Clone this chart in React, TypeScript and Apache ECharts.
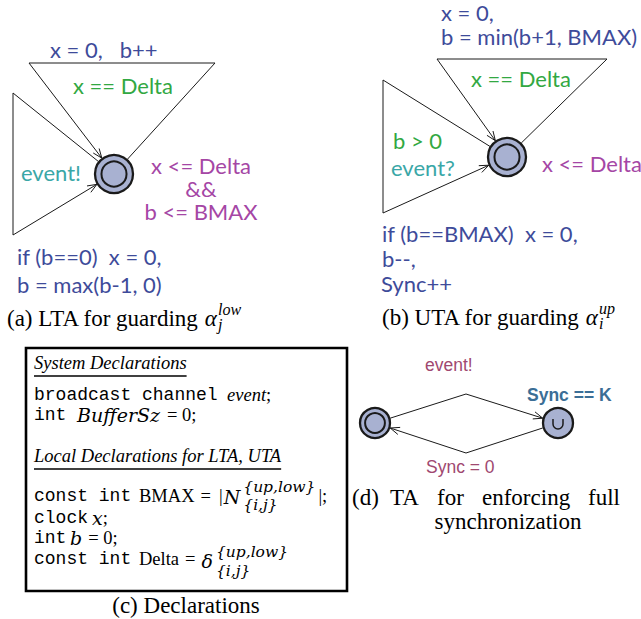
import React, { useEffect, useRef } from "react";
import * as echarts from "echarts";

// ---------------- texts ----------------
const LTA_TEXTS = ["x = 0,   b++", "x == Delta", "event!", "x <= Delta", "&&", "b <= BMAX", "if (b==0)  x = 0,", "b = max(b-1, 0)"];
const UTA_TEXTS = ["x = 0,", "b = min(b+1, BMAX)", "x == Delta", "b > 0", "event?", "x <= Delta", "if (b==BMAX)  x = 0,", "b--,", "Sync++"];
const SYNC_TEXTS = ["event!", "Sync == K", "Sync = 0"];
const CAPTION_A = ["(a) LTA for guarding ", "α", "low", "j"];
const CAPTION_B = ["(b) UTA for guarding ", "α", "up", "i"];
const CAPTION_C = ["(c) Declarations"];
const CAPTION_D = ["(d)", "TA", "for", "enforcing", "full", "synchronization"];
const DECL_HEADINGS = ["System Declarations", "Local Declarations for LTA, UTA"];
const DECL_SEGMENTS = [
  "broadcast channel", "event", ";",
  "int", "BufferSz", "= 0;",
  "const int", "BMAX", "=", "|", "N", "{up,low}", "{i,j}", "|;",
  "clock", "x", ";",
  "int", "b", "= 0;",
  "const int", "Delta", "=", "δ", "{up,low}", "{i,j}",
];

// ---------------- styles ----------------
const SANS = "Lato, 'Open Sans', sans-serif";
const F_SANS = `22px ${SANS}`;
const F_D = `17.5px 'Liberation Sans', Arial, sans-serif`;
const F_DB = `bold 17.5px 'Liberation Sans', Arial, sans-serif`;
const SERIF = "'Liberation Serif', 'Times New Roman', serif";
const F_CAP = `23px ${SERIF}`;
const F_CAP_IT = `italic 23px ${SERIF}`;
const F_CAP_SC = `italic 16px ${SERIF}`;
const FONTS: Record<string, string> = {
  mono: `18px 'Liberation Mono', 'DejaVu Sans Mono', monospace`,
  rm: `18.5px ${SERIF}`,
  it: `italic 18.5px ${SERIF}`,
  mi: `italic 19px 'DejaVu Serif', serif`,
  sup: `italic 15.5px 'DejaVu Serif', serif`,
  sub: `italic 15.5px 'DejaVu Serif', serif`,
};
// layout of DECL_SEGMENTS: [left x (null = follow previous), centre y, font, gap before]
const DECL_LAYOUT: [number | null, number, string, number][] = [
  [34, 395, "mono", 0], [227, 395, "it", 0], [null, 395, "rm", 0],
  [34, 415, "mono", 0], [77, 415, "mi", 0], [null, 415, "rm", 7],
  [34, 496, "mono", 0], [139, 496, "rm", 0], [null, 496, "rm", 6], [null, 496, "rm", 8], [null, 497, "mi", 1], [null, 487, "sup", 3], [null, 505, "sub", 3], [null, 496, "rm", 3],
  [34, 518, "mono", 0], [92, 518, "mi", 0], [null, 518, "rm", 0],
  [34, 538, "mono", 0], [70, 538, "mi", 0], [null, 538, "rm", 6],
  [34, 559, "mono", 0], [139, 559, "rm", 0], [null, 559, "rm", 6], [null, 561, "mi", 6], [null, 552, "sup", 3], [null, 571, "sub", 3],
];

const C_ASSIGN = "#3e4b9a";
const C_GUARD = "#32a842";
const C_SYNC = "#3aa7a7";
const C_INV = "#a546a5";
const C_D = "#a04870";
const C_DB = "#3b6e96";
const C_FILL = "#a8b1d1";
const C_LINE = "#1a1a1a";

let measureCtx: CanvasRenderingContext2D | null = null;
function mw(text: string, font: string): number {
  if (!measureCtx) measureCtx = document.createElement("canvas").getContext("2d");
  measureCtx!.font = font;
  return measureCtx!.measureText(text).width;
}

function txt(text: string, x: number, y: number, font: string, fill: string, align = "left"): any {
  return {
    type: "text",
    x,
    y,
    silent: true,
    style: { text, font, fill, align, verticalAlign: "middle", textAlign: align, textVerticalAlign: "middle" },
  };
}

type P = [number, number];
function toward(c: P, r: number, t: P): P {
  const dx = t[0] - c[0];
  const dy = t[1] - c[1];
  const d = Math.hypot(dx, dy);
  return [c[0] + (dx / d) * r, c[1] + (dy / d) * r];
}

function edge(from: P, fr: number, nails: P[], to: P, tr: number): any[] {
  const a = toward(from, fr, nails[0]);
  const b = toward(to, tr, nails[nails.length - 1]);
  const pts = [a, ...nails, b];
  const prev = nails[nails.length - 1];
  const ang = Math.atan2(b[1] - prev[1], b[0] - prev[0]);
  const L = 10;
  const spread = 0.38;
  const h1: P = [b[0] - L * Math.cos(ang - spread), b[1] - L * Math.sin(ang - spread)];
  const h2: P = [b[0] - L * Math.cos(ang + spread), b[1] - L * Math.sin(ang + spread)];
  return [
    { type: "polyline", silent: true, shape: { points: pts }, style: { stroke: C_LINE, lineWidth: 1, fill: null, lineJoin: "round" } },
    { type: "polyline", silent: true, shape: { points: [h1, b, h2] }, style: { stroke: C_LINE, lineWidth: 1, fill: null } },
  ];
}

function location(c: P, r: number, initial: boolean, urgent: boolean): any[] {
  const els: any[] = [
    { type: "circle", silent: true, shape: { cx: c[0], cy: c[1], r }, style: { fill: C_FILL, stroke: C_LINE, lineWidth: 2.3 } },
  ];
  if (initial) {
    els.push({ type: "circle", silent: true, shape: { cx: c[0], cy: c[1], r: r * 0.66 }, style: { fill: C_FILL, stroke: C_LINE, lineWidth: 2 } });
  }
  if (urgent) {
    els.push({
      type: "arc",
      silent: true,
      shape: { cx: c[0], cy: c[1] + 1, r: 5, startAngle: 0, endAngle: Math.PI, clockwise: true },
      style: { stroke: C_LINE, lineWidth: 1.5, fill: null },
    });
    els.push({ type: "line", silent: true, shape: { x1: c[0] - 5, y1: c[1] - 4, x2: c[0] - 5, y2: c[1] + 1 }, style: { stroke: C_LINE, lineWidth: 1.5 } });
    els.push({ type: "line", silent: true, shape: { x1: c[0] + 5, y1: c[1] - 4, x2: c[0] + 5, y2: c[1] + 1 }, style: { stroke: C_LINE, lineWidth: 1.5 } });
  }
  return els;
}

function caption(x0: number, y: number, parts: string[]): any[] {
  const els: any[] = [];
  let x = x0;
  els.push(txt(parts[0], x, y, F_CAP, "#000"));
  x += mw(parts[0], F_CAP);
  els.push(txt(parts[1], x, y, F_CAP_IT, "#000"));
  x += mw(parts[1], F_CAP_IT) + 1;
  els.push(txt(parts[2], x, y - 9, F_CAP_SC, "#000"));
  els.push(txt(parts[3], x, y + 6, F_CAP_SC, "#000"));
  return els;
}

function declarations(): any[] {
  const els: any[] = [];
  let cursor = 0;
  let supX = 0;
  let supRight = 0;
  DECL_SEGMENTS.forEach((s, i) => {
    const [lx, y, f, gap] = DECL_LAYOUT[i];
    const font = FONTS[f];
    let x: number;
    if (f === "sub") {
      x = supX;
    } else {
      x = lx !== null ? lx : cursor + gap;
    }
    els.push(txt(s, x, y, font, "#000"));
    const right = x + mw(s, font);
    if (f === "sup") {
      supX = x;
      supRight = right;
      cursor = right;
    } else if (f === "sub") {
      cursor = Math.max(supRight, right);
    } else {
      cursor = right;
    }
  });
  return els;
}

function buildGraphics(): any[] {
  const g: any[] = [];

  // ---------- (a) LTA ----------
  const ca: P = [114, 174];
  const ra = 19;
  g.push(...edge(ca, ra + 1, [[215, 63], [29, 63]], ca, ra + 1));
  g.push(...edge(ca, ra + 1, [[13, 93], [13, 235]], ca, ra + 1));
  g.push(...location(ca, ra, true, false));
  g.push(txt(LTA_TEXTS[0], 50, 49, F_SANS, C_ASSIGN));
  g.push(txt(LTA_TEXTS[1], 73, 85, F_SANS, C_GUARD));
  g.push(txt(LTA_TEXTS[2], 21, 172, F_SANS, C_SYNC));
  g.push(txt(LTA_TEXTS[3], 201, 165, F_SANS, C_INV, "center"));
  g.push(txt(LTA_TEXTS[4], 201, 188, F_SANS, C_INV, "center"));
  g.push(txt(LTA_TEXTS[5], 201, 211, F_SANS, C_INV, "center"));
  g.push(txt(LTA_TEXTS[6], 17, 256, F_SANS, C_ASSIGN));
  g.push(txt(LTA_TEXTS[7], 17, 284, F_SANS, C_ASSIGN));
  g.push(...caption(7, 318, CAPTION_A));

  // ---------- (b) UTA ----------
  const cb: P = [507, 157];
  g.push(...edge(cb, ra + 1, [[607, 59], [437, 59]], cb, ra + 1));
  g.push(...edge(cb, ra + 1, [[383, 80], [383, 213]], cb, ra + 1));
  g.push(...location(cb, ra, true, false));
  g.push(txt(UTA_TEXTS[0], 441, 12, F_SANS, C_ASSIGN));
  g.push(txt(UTA_TEXTS[1], 441, 36, F_SANS, C_ASSIGN));
  g.push(txt(UTA_TEXTS[2], 471, 78, F_SANS, C_GUARD));
  g.push(txt(UTA_TEXTS[3], 393, 140, F_SANS, C_GUARD));
  g.push(txt(UTA_TEXTS[4], 391, 167, F_SANS, C_SYNC));
  g.push(txt(UTA_TEXTS[5], 542, 163, F_SANS, C_INV));
  g.push(txt(UTA_TEXTS[6], 382, 233, F_SANS, C_ASSIGN));
  g.push(txt(UTA_TEXTS[7], 382, 258, F_SANS, C_ASSIGN));
  g.push(txt(UTA_TEXTS[8], 381, 283, F_SANS, C_ASSIGN));
  g.push(...caption(382, 317, CAPTION_B));

  // ---------- (c) Declarations ----------
  g.push({ type: "rect", silent: true, shape: { x: 26, y: 348, width: 321, height: 243 }, style: { fill: "#fff", stroke: "#000", lineWidth: 2.6 } });
  const X0 = 34;
  const headY = [363, 456];
  DECL_HEADINGS.forEach((h, i) => {
    g.push(txt(h, X0, headY[i], FONTS.it, "#000"));
    const w = mw(h, FONTS.it);
    g.push({ type: "line", silent: true, shape: { x1: X0, y1: headY[i] + 13, x2: X0 + w, y2: headY[i] + 13 }, style: { stroke: "#000", lineWidth: 1.3 } });
  });
  g.push(...declarations());
  g.push(txt(CAPTION_C[0], 186, 605, F_CAP, "#000", "center"));

  // ---------- (d) Sync TA ----------
  const cl: P = [375, 423];
  const cr: P = [558, 423];
  const rd = 15;
  g.push(...edge(cl, rd + 1, [[466, 394]], cr, rd + 1));
  g.push(...edge(cr, rd + 1, [[466, 453]], cl, rd + 1));
  g.push(...location(cl, rd, true, false));
  g.push(...location(cr, rd, false, true));
  g.push(txt(SYNC_TEXTS[0], 425, 365, F_D, C_D));
  g.push(txt(SYNC_TEXTS[1], 527, 395, F_DB, C_DB));
  g.push(txt(SYNC_TEXTS[2], 426, 467, F_D, C_D));
  const dX = [352, 390, 437, 482, 588];
  for (let i = 0; i < 5; i++) g.push(txt(CAPTION_D[i], dX[i], 497, F_CAP, "#000"));
  g.push(txt(CAPTION_D[5], 508, 521, F_CAP, "#000", "center"));

  return g;
}

export default function App() {
  const ref = useRef<HTMLDivElement>(null);
  useEffect(() => {
    document.body.style.margin = "0";
    if (!ref.current) return;
    const chart = echarts.init(ref.current, null, { renderer: "svg" });
    chart.setOption({
      animation: false,
      backgroundColor: "#ffffff",
      graphic: { elements: buildGraphics() },
    });
    return () => chart.dispose();
  }, []);
  return <div ref={ref} style={{ width: 641, height: 619 }} />;
}
